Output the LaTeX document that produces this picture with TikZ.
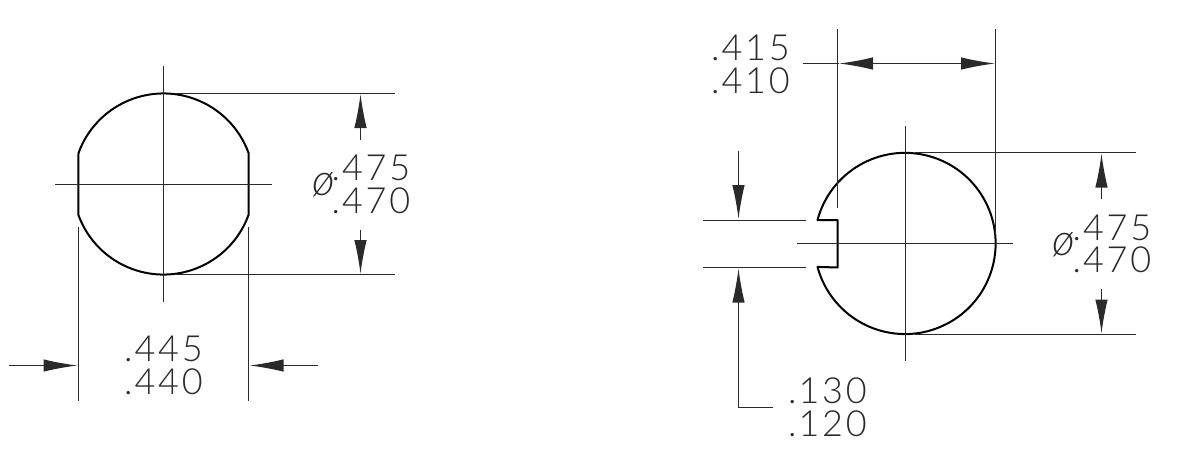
\documentclass[tikz,border=0pt]{standalone}
\usepackage{fontspec}
\setmainfont{Lato Light}[LetterSpace=7.5,ItalicFont={Lato Light Italic}]
\usetikzlibrary{arrows.meta}
\definecolor{ink}{HTML}{2A2A2A}
\tikzset{
  x=1pt,y=-1pt,
  thinline/.style={line width=1.2pt,color=ink},
  outline/.style={line width=2pt,color=black},
  tipline/.style={thinline,-{Latex[length=34pt,width=12.5pt]}},
  dimtext/.style={anchor=base west,inner sep=0pt,text height=25pt,text depth=0pt,font=\fontsize{36}{36}\selectfont,text=ink},
  phitext/.style={anchor=center,inner sep=0pt,text height=20pt,text depth=0pt,font=\fontsize{44}{44}\selectfont\itshape,text=ink}
}
\begin{document}
\begin{tikzpicture}
\useasboundingbox (0,0) rectangle (1177,472);
\fill[white] (0,0) rectangle (1177,472);
% Left part
\coordinate (LA) at (78.5,153);
\coordinate (LB) at (248.5,153);
\coordinate (LC) at (248.5,215);
\coordinate (LD) at (78.5,215);
\draw[outline,line join=round] (LA) arc[start angle=160,delta angle=-140,radius=90.5pt] -- (LC) arc[start angle=-20,delta angle=-140,radius=90.5pt] -- cycle;
\draw[thinline] (163.5,66) -- (163.5,302);
\draw[thinline] (55,184.5) -- (272,184.5);
\draw[thinline] (175,93.5) -- (395,93.5);
\draw[thinline] (175,274.5) -- (395,274.5);
\draw[thinline] (78.5,227) -- (78.5,401);
\draw[thinline] (248.5,227) -- (248.5,401);
\coordinate (L1s) at (360.5,140); \coordinate (L1e) at (360.5,94);
\coordinate (L2s) at (360.5,230); \coordinate (L2e) at (360.5,274);
\coordinate (L3s) at (9,365.5); \coordinate (L3e) at (77.5,365.5);
\coordinate (L4s) at (318,365.5); \coordinate (L4e) at (249.5,365.5);
\draw[tipline] (L1s) -- (L1e);
\draw[tipline] (L2s) -- (L2e);
\draw[tipline] (L3s) -- (L3e);
\draw[tipline] (L4s) -- (L4e);
\node[phitext] (lphi) at (324,185) {ø};
\node[dimtext] (l475) at (331.5,180) {.\kern2pt 475};
\node[dimtext] (l470) at (331.5,213) {.\kern2pt 470};
\node[dimtext] (l445) at (124,361.5) {.\kern2pt 445};
\node[dimtext] (l440) at (124,394) {.\kern2pt 440};
% Right part
\coordinate (RA) at (817.5,220);
\coordinate (RB) at (817.5,267.5);
\coordinate (RC) at (837.5,267.5);
\coordinate (RD) at (837.5,220);
\draw[outline,line join=round] (RA) arc[start angle=165,delta angle=-330,radius=90.6pt] -- (RC) -- (RD) -- cycle;
\draw[thinline] (905.5,126) -- (905.5,361);
\draw[thinline] (797,243.5) -- (1013,243.5);
\draw[thinline] (915,152.5) -- (1136,152.5);
\draw[thinline] (915,334.5) -- (1136,334.5);
\draw[thinline] (837.5,29) -- (837.5,208);
\draw[thinline] (995.5,29) -- (995.5,235);
\draw[thinline] (703,220.5) -- (806,220.5);
\draw[thinline] (703,267.5) -- (806,267.5);
\coordinate (R1s) at (1101.5,199); \coordinate (R1e) at (1101.5,153.5);
\coordinate (R2s) at (1101.5,289); \coordinate (R2e) at (1101.5,333.5);
\coordinate (R3s) at (802.5,63.5); \coordinate (R3m) at (995,63.5); \coordinate (R3l) at (839,63.5);
\coordinate (R4s) at (738.5,150.5); \coordinate (R4e) at (738.5,219);
\coordinate (R5s) at (773,407.5); \coordinate (R5m) at (738.5,407.5); \coordinate (R5e) at (738.5,268.5);
\draw[tipline] (R1s) -- (R1e);
\draw[tipline] (R2s) -- (R2e);
\draw[thinline] (R3s) -- (R3l);
\draw[tipline,{Latex[length=34pt,width=12.5pt]}-{Latex[length=34pt,width=12.5pt]}] (R3l) -- (R3m);
\draw[tipline] (R4s) -- (R4e);
\draw[tipline] (R5s) -- (R5m) -- (R5e);
\node[phitext] (rphi) at (1064,245) {ø};
\node[dimtext] (r475) at (1072.5,240) {.\kern2pt 475};
\node[dimtext] (r470) at (1072.5,272.7) {.\kern2pt 470};
\node[dimtext] (r415) at (711,60.5) {.\kern2pt 415};
\node[dimtext] (r410) at (711,93) {.\kern2pt 410};
\node[dimtext] (r130) at (788,403.7) {.\kern2pt 130};
\node[dimtext] (r120) at (788,436.3) {.\kern2pt 120};
\end{tikzpicture}
\end{document}
